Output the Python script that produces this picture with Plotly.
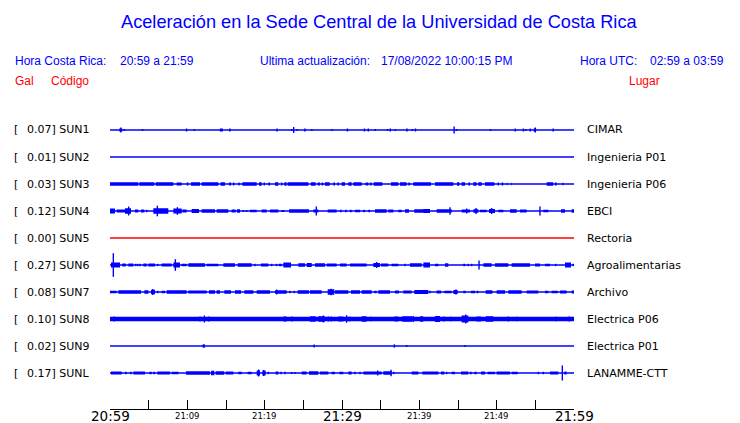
import plotly.graph_objects as go

# ---------------- data ----------------
CODES = ["SUN1", "SUN2", "SUN3", "SUN4", "SUN5", "SUN6", "SUN7", "SUN8", "SUN9", "SUNL"]
PEAKS = ["0.07", "0.01", "0.03", "0.12", "0.00", "0.27", "0.08", "0.10", "0.02", "0.17"]
PLACES = ["CIMAR", "Ingenieria P01", "Ingenieria P06", "EBCI", "Rectoria",
          "Agroalimentarias", "Archivo", "Electrica P06", "Electrica P01", "LANAMME-CTT"]
TICK_MINUTES = [0, 10, 20, 30, 40, 50, 60]
TICK_LABELS = ["20:59", "21:09", "21:19", "21:29", "21:39", "21:49", "21:59"]
TICK_MAJOR = [True, False, False, True, False, False, True]
MINOR_TICK_MINUTES = list(range(0, 61, 5))

# bursts: [start minute, end minute, half amplitude]; spikes: [minute, half amplitude]
SUN1_BURSTS = [[1.2, 1.6, 1.5], [14.2, 14.6, 1.5], [15.4, 15.6, 1.5], [25.1, 25.3, 1.5],
               [38.3, 38.5, 1.5], [54.8, 55.1, 1.8]]
SUN1_SPIKES = [[1.4, 2.5], [1.85, 1], [4.2, 1], [9.9, 1.5], [10.9, 1], [21.6, 1.5], [23.5, 1],
               [23.75, 3], [24.2, 1], [26.1, 1], [28.7, 1], [30.7, 1.5], [32.9, 1.5], [33.4, 1.5],
               [34.3, 1], [35.9, 1], [36.25, 1.5], [36.9, 1], [39.1, 1], [39.5, 1.5], [44.5, 3.5],
               [44.8, 1], [49.2, 1], [52.4, 1.5], [53.45, 1.5], [53.75, 1], [54.35, 1.5],
               [55.0, 2.5], [57.3, 1.5]]
SUN2_BURSTS = []
SUN2_SPIKES = []
SUN3_BURSTS = [[0, 3.66, 1.7], [3.79, 5.73, 1.7], [5.9, 8.19, 1.7], [8.62, 9.27, 1.4],
               [9.91, 10.13, 1.4], [10.47, 11.64, 1.7], [11.85, 14.01, 1.7], [14.31, 14.87, 1.7],
               [15.39, 15.65, 1.4], [15.9, 16.08, 1.4], [16.6, 16.77, 1.4], [17.11, 18.97, 1.7],
               [19.27, 19.61, 1.7], [19.87, 20.04, 1.4], [20.47, 20.69, 1.4], [21.34, 21.77, 1.7],
               [22.11, 22.28, 1.4], [22.54, 22.84, 1.7], [22.97, 25.65, 1.7], [25.99, 26.59, 1.7],
               [26.85, 27.16, 1.4], [27.37, 27.59, 1.4], [27.8, 28.41, 1.7], [28.88, 29.09, 1.4],
               [29.4, 29.61, 1.4], [29.96, 30.39, 1.7], [30.82, 31.25, 1.7], [31.47, 32.54, 1.7],
               [33.06, 33.41, 1.4], [33.62, 33.84, 1.4], [34.09, 35.22, 1.7], [36.34, 37.28, 1.7],
               [37.5, 38.36, 1.7], [38.58, 38.79, 1.4], [39.22, 41.51, 1.7], [42.03, 44.4, 1.7],
               [44.87, 45.17, 1.7], [45.47, 45.91, 1.7], [46.34, 46.55, 1.4], [46.98, 47.41, 1.7],
               [47.63, 48.06, 1.7], [48.49, 49.7, 1.7], [50.13, 50.3, 1.4], [50.65, 50.86, 1.4],
               [51.29, 51.42, 1.2], [51.85, 51.94, 1.2], [56.47, 57.33, 1.7], [57.54, 57.76, 1.4],
               [58.49, 58.66, 1.2]]
SUN3_SPIKES = []
SUN4_BURSTS = [[0, 0.65, 2.5], [0.86, 1.94, 1.5], [1.94, 2.72, 2.8], [3.23, 3.66, 1.5],
               [4.0, 4.44, 1.5], [4.66, 4.83, 1.3], [5.6, 7.54, 2.8], [8.19, 9.27, 2.5],
               [9.35, 9.91, 1.5], [10.56, 11.51, 2], [11.85, 13.58, 1.7], [13.79, 15.3, 1.7],
               [15.73, 16.25, 1.5], [16.42, 16.81, 1.7], [18.1, 18.97, 1.3], [19.61, 20.26, 1.5],
               [20.69, 21.77, 1.5], [22.2, 22.54, 1], [23.15, 25.73, 1.7], [26.29, 26.94, 1.5],
               [28.15, 29.31, 1.5], [29.74, 29.96, 1.2], [30.39, 30.6, 1.2], [31.03, 31.25, 1.2],
               [31.68, 32.33, 1.3], [32.76, 32.97, 1.2], [33.41, 33.62, 1.2], [34.27, 35.78, 1.7],
               [35.99, 36.64, 1.5], [37.28, 37.72, 1.3], [38.15, 38.66, 1.7], [39.35, 40.52, 1.7],
               [40.52, 41.38, 2], [42.24, 44.18, 1.8], [45.47, 46.55, 1.5], [46.98, 47.63, 1.8],
               [47.84, 48.71, 1.2], [49.01, 49.78, 2], [50.22, 50.86, 1.2], [51.72, 52.59, 1.8],
               [53.02, 53.88, 1.5], [56.03, 56.68, 1.2], [58.32, 58.84, 1.7], [59.7, 60, 1.7]]
SUN4_SPIKES = [[2.41, 4.5], [6.12, 5.3], [8.71, 3.8], [17.24, 1], [17.67, 1], [26.68, 4.5],
               [43.97, 3.8], [46.12, 2.5], [47.33, 3], [49.35, 3], [55.6, 4.5]]
SUN5_BURSTS = []
SUN5_SPIKES = []
SUN6_BURSTS = [[0.13, 1.29, 2.5], [1.59, 2.03, 1.5], [2.37, 3.02, 1.5], [4.31, 4.74, 1.5],
               [4.96, 5.82, 1.5], [6.68, 7.97, 1.5], [8.19, 9.05, 2.5], [9.27, 9.91, 1.2],
               [10.13, 12.28, 1.7], [12.5, 14.01, 1.3], [14.66, 16.16, 1.8], [16.51, 18.32, 1.8],
               [19.53, 20.47, 1.5], [21.85, 22.2, 1.3], [22.41, 23.41, 2.5], [24.35, 25.22, 1.8],
               [25.43, 26.08, 2], [26.51, 27.8, 1.8], [28.02, 29.31, 1.5], [29.74, 30.6, 1.5],
               [31.03, 33.19, 1.5], [34.05, 34.91, 2], [35.04, 35.99, 1.5], [36.42, 37.28, 1.2],
               [38.79, 40.3, 1.8], [40.52, 41.38, 2.5], [42.03, 42.46, 1.2], [43.32, 43.75, 1.8],
               [45.69, 45.91, 1.2], [48.28, 49.35, 1.8], [49.78, 51.51, 1.8], [51.94, 54.31, 1.8],
               [54.96, 55.6, 1.5], [56.25, 56.9, 1.2], [58.84, 59.61, 2.5]]
SUN6_SPIKES = [[0.43, 11.8], [3.32, 1.2], [3.58, 1.2], [3.88, 1.2], [6.16, 1.2], [8.45, 5.8],
               [18.75, 1.2], [20.9, 1.2], [21.55, 1.2], [34.48, 3], [38.15, 1.2], [46.34, 1.2],
               [46.77, 1.2], [47.72, 4.5], [57.63, 1.2], [59.91, 1.2]]
SUN7_BURSTS = [[0, 0.86, 1.3], [1.08, 4.01, 1.7], [4.44, 4.96, 1.7], [5.3, 5.82, 2.2],
               [6.68, 7.11, 1.2], [7.33, 9.91, 1.7], [10.13, 12.5, 1.5], [12.8, 13.58, 1.7],
               [13.79, 14.22, 1.7], [14.78, 15.65, 1.7], [16.16, 16.94, 1.7], [17.37, 18.53, 1.7],
               [18.97, 20.69, 1.7], [21.34, 22.84, 1.7], [24.27, 25.73, 1.7], [25.86, 27.37, 1.8],
               [28.15, 29.01, 2.8], [29.09, 30.82, 1.7], [31.16, 32.33, 1.7], [32.54, 33.84, 1.8],
               [34.18, 34.48, 1.2], [34.7, 36.21, 1.7], [36.85, 37.37, 1.5], [37.93, 39.01, 1.5],
               [39.35, 41.16, 2], [42.24, 42.8, 1.5], [43.23, 44.18, 1.2], [44.4, 44.96, 2],
               [45.69, 45.99, 1.2], [46.68, 47.2, 1.2], [47.41, 47.63, 1.2], [48.58, 49.44, 1.8],
               [50.0, 51.08, 1.8], [51.51, 53.23, 1.8], [53.88, 55.39, 1.5], [56.25, 56.68, 1.2],
               [57.11, 57.89, 1.2], [58.19, 59.05, 1.5], [59.7, 60, 1.5]]
SUN7_SPIKES = [[5.52, 3], [6.16, 1.2], [21.55, 2.5], [23.28, 1.2], [23.84, 1.2], [28.58, 3.2],
               [41.38, 1.2], [44.74, 2.5]]
SUN8_BURSTS = [[22.41, 22.84, 2.5], [25.86, 26.59, 2.8], [26.94, 27.8, 2.8], [29.53, 30.17, 2.5],
               [32.54, 33.19, 2.8], [36.77, 37.28, 2.5], [37.8, 39.09, 2.8], [40.09, 40.52, 2.8],
               [42.03, 42.67, 3], [45.47, 46.34, 3.5], [47.41, 47.97, 2.5], [48.58, 49.57, 2.8]]
SUN8_SPIKES = [[0.56, 2.5], [11.64, 2.5], [12.2, 3.5], [12.8, 2.5], [23.49, 2.5], [27.59, 3.5],
               [28.23, 2.5], [28.58, 2.5], [30.6, 3.8], [31.03, 2.5], [33.71, 2.3], [39.22, 3],
               [43.23, 2.5], [44.09, 2.3], [45.99, 4.5], [51.51, 2.5], [52.59, 2.3], [57.63, 2.3],
               [59.4, 2.5]]
SUN9_BURSTS = [[11.98, 12.28, 1.7]]
SUN9_SPIKES = [[26.4, 1.5], [36.77, 1.7], [38.36, 1], [45.9, 1]]
SUNL_BURSTS = [[0.13, 1.51, 1.5], [1.94, 2.16, 1.2], [2.59, 2.8, 1.2], [3.02, 4.53, 1.5],
               [5.09, 5.39, 1.2], [5.6, 5.82, 1.2], [6.12, 7.76, 1.5], [7.97, 8.84, 1.2],
               [9.83, 12.93, 1.7], [13.06, 13.49, 2.3], [13.66, 14.78, 1.7], [14.96, 15.95, 1.5],
               [16.59, 17.03, 1.2], [17.8, 18.32, 1.3], [18.97, 19.4, 2.5], [19.7, 20.13, 2.5],
               [20.39, 20.56, 1.2], [21.42, 21.77, 1.5], [24.78, 25.43, 1.5], [25.73, 26.94, 1.7],
               [27.16, 28.23, 1.5], [28.66, 29.09, 1.2], [29.66, 30.17, 1.2], [30.82, 31.25, 1.5],
               [32.76, 35.13, 1.5], [35.34, 36.42, 1.8], [39.01, 39.87, 1.5], [40.39, 42.46, 1.5],
               [42.8, 43.23, 1.5], [44.18, 44.61, 1.2], [45.39, 46.34, 1.5], [46.55, 46.77, 1.2],
               [47.11, 47.41, 1.2], [47.97, 48.49, 1.5], [48.84, 49.78, 1.2], [50.0, 51.72, 1.5],
               [51.94, 52.72, 1.3], [56.9, 57.97, 1.5], [58.75, 59.05, 1.5]]
SUNL_SPIKES = [[19.22, 3.5], [19.87, 3], [22.11, 1.2], [22.63, 1.2], [23.49, 1], [23.92, 1],
               [31.68, 1.2], [32.33, 1.2], [34.61, 2.5], [36.34, 3.3], [36.68, 1.2], [43.53, 1.2],
               [55.39, 1.2], [56.03, 1.2], [58.49, 7.5]]

BURSTS = [SUN1_BURSTS, SUN2_BURSTS, SUN3_BURSTS, SUN4_BURSTS, SUN5_BURSTS,
          SUN6_BURSTS, SUN7_BURSTS, SUN8_BURSTS, SUN9_BURSTS, SUNL_BURSTS]
SPIKES = [SUN1_SPIKES, SUN2_SPIKES, SUN3_SPIKES, SUN4_SPIKES, SUN5_SPIKES,
          SUN6_SPIKES, SUN7_SPIKES, SUN8_SPIKES, SUN9_SPIKES, SUNL_SPIKES]

# ---------------- style ----------------
BLUE = "#0000FF"
RED = "#FF0000"
W, H = 740, 423          # browser window
OFF = 8                  # default page body margin
PL, PR, PT, PB = 110, 574, 110, 409   # plot area in window pixels
ROW0_PX = 130
ROW_PX = 27.0
AMP = 1.0 / ROW_PX
BASE_W = [1.5, 1.5, 1.5, 1.5, 1.5, 1.5, 1.5, 4.5, 1.5, 1.5]
TXT_PAD = 2              # annotation border padding

fig = go.Figure()
n = len(CODES)
for i in range(n):
    col = RED if CODES[i] == "SUN5" else BLUE
    fig.add_trace(go.Scatter(x=[0, 60], y=[i, i], mode="lines",
                             line=dict(color=col, width=BASE_W[i]), hoverinfo="skip"))
    if BURSTS[i]:
        xs, ys = [], []
        for t0, t1, a in BURSTS[i]:
            d = a * AMP
            xs += [t0, t1, t1, t0, t0, None]
            ys += [i - d, i - d, i + d, i + d, i - d, None]
        fig.add_trace(go.Scatter(x=xs, y=ys, mode="lines", fill="toself", fillcolor=col,
                                 line=dict(color=col, width=0), hoverinfo="skip"))
    if SPIKES[i]:
        xs, ys = [], []
        for t, a in SPIKES[i]:
            d = a * AMP
            xs += [t, t, None]
            ys += [i - d, i + d, None]
        fig.add_trace(go.Scatter(x=xs, y=ys, mode="lines",
                                 line=dict(color=col, width=1.4), hoverinfo="skip"))

def px_x(p):
    return (p - PL) / (PR - PL)

def px_y(p):
    return (PB - p) / (PB - PT)

ann = []
def text(x, y, s, color, size, family, anchor="left"):
    xx = x - TXT_PAD if anchor == "left" else x
    ann.append(dict(x=px_x(xx), y=px_y(y), xref="paper", yref="paper", text=s, showarrow=False,
                    xanchor=anchor, yanchor="middle",
                    font=dict(color=color, size=size, family=family)))

SANS = "Liberation Sans, Arial, sans-serif"
DJ = "DejaVu Sans, sans-serif"
text(378.5, 22, "Aceleración en la Sede Central de la Universidad de Costa Rica", BLUE, 18.2, SANS, "center")
text(15, 61, "Hora Costa Rica:", BLUE, 12, SANS)
text(120, 61, "20:59 a 21:59", BLUE, 12, SANS)
text(260, 61, "Ultima actualización:", BLUE, 12, SANS)
text(381, 61, "17/08/2022 10:00:15 PM", BLUE, 12, SANS)
text(580, 61, "Hora UTC:", BLUE, 12, SANS)
text(650, 61, "02:59 a 03:59", BLUE, 12, SANS)
text(15, 81, "Gal", RED, 12, SANS)
text(51, 81, "Código", RED, 12, SANS)
text(629, 81, "Lugar", RED, 12, SANS)

for i in range(n):
    yy = ROW0_PX + ROW_PX * i
    text(14, yy, "[", "#000000", 11, DJ)
    text(27, yy, PEAKS[i] + "] " + CODES[i], "#000000", 11, DJ)
    text(587, yy, PLACES[i], "#000000", 11, DJ)

for m, lab, major in zip(TICK_MINUTES, TICK_LABELS, TICK_MAJOR):
    ann.append(dict(x=m, y=px_y(416 if major else 415.5), xref="x", yref="paper", text=lab,
                    showarrow=False, xanchor="center", yanchor="middle",
                    font=dict(color="#000000", size=13.5 if major else 8.5, family=DJ)))

y_top = -(ROW0_PX - PT) / ROW_PX
y_bot = (n - 1) + (PB - (ROW0_PX + ROW_PX * (n - 1))) / ROW_PX

fig.update_layout(
    width=W - OFF, height=H - OFF, autosize=False,
    margin=dict(l=PL - OFF, r=W - PR, t=PT - OFF, b=H - PB, pad=0),
    paper_bgcolor="white", plot_bgcolor="white", showlegend=False,
    xaxis=dict(range=[0, 60], showgrid=False, zeroline=False, showline=True, linecolor="#000000",
               linewidth=1, ticks="inside", ticklen=9, tickcolor="#000000", tickwidth=1,
               tickvals=MINOR_TICK_MINUTES, showticklabels=False, fixedrange=True),
    yaxis=dict(range=[y_bot, y_top], visible=False, fixedrange=True),
    annotations=ann,
)
fig.write_html("out.html")
